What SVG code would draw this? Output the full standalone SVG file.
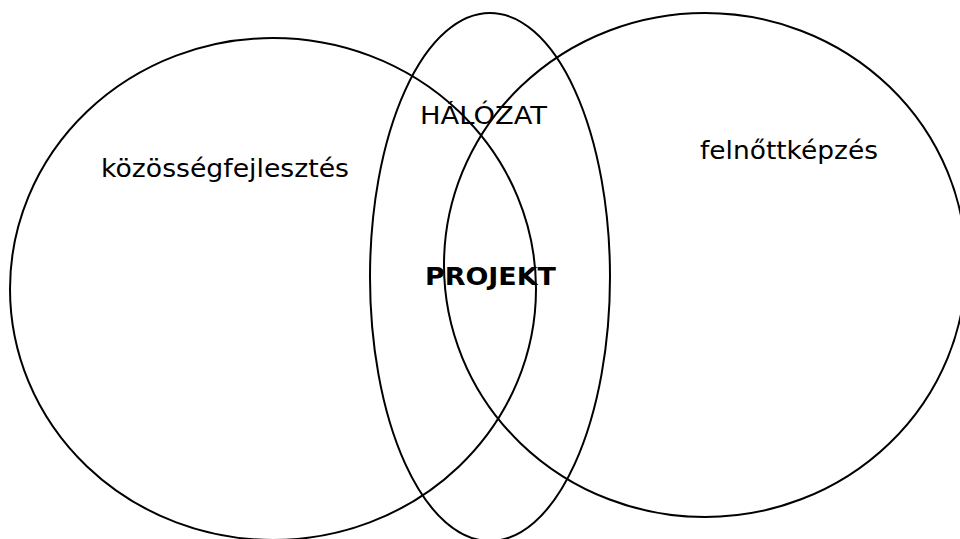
<svg xmlns="http://www.w3.org/2000/svg" width="960" height="539" viewBox="0 0 960 539">
<style>
.shape{fill:none;stroke:#000;stroke-width:2}
.lbl{font-family:"DejaVu Sans",Verdana,sans-serif;font-size:25px;fill:#000}
.bold{font-weight:bold}
</style>
<rect width="960" height="539" fill="#fff"/>
<g id="kozossegfejlesztes">
<ellipse class="shape" cx="273" cy="289" rx="263" ry="251"/>
<text class="lbl" x="101" y="177" textLength="248" lengthAdjust="spacingAndGlyphs">közösségfejlesztés</text>
</g>
<g id="felnottkepzes">
<ellipse class="shape" cx="705" cy="265" rx="261" ry="252"/>
<text class="lbl" x="700" y="159" textLength="178" lengthAdjust="spacingAndGlyphs">felnőttképzés</text>
</g>
<g id="halozat">
<ellipse class="shape" cx="490" cy="277" rx="120" ry="264"/>
<text class="lbl" x="420" y="124" textLength="127" lengthAdjust="spacingAndGlyphs">HÁLÓZAT</text>
</g>
<g id="projekt">
<text class="lbl bold" x="425" y="285" textLength="131" lengthAdjust="spacingAndGlyphs">PROJEKT</text>
</g>
<g id="connectors"/>
</svg>
